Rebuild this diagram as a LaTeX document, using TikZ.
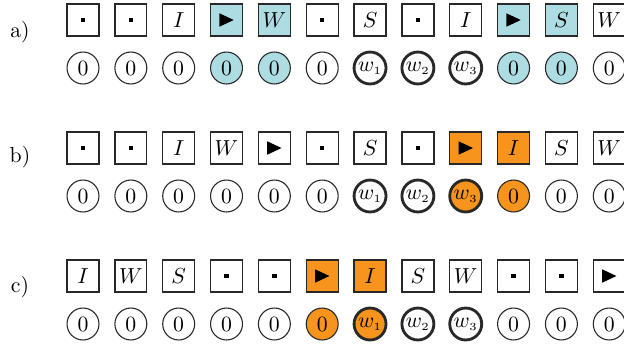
\documentclass[tikz,border=0pt]{standalone}
\definecolor{bluefill}{RGB}{173,221,227}
\definecolor{orfill}{RGB}{247,148,29}
\definecolor{edgec}{RGB}{40,40,40}
\newcommand\dotc{\rule{2pt}{2pt}}
\newcommand\trig{\tikz\fill (0,0)--(0,6.2pt)--(6.6pt,3.1pt)--cycle;}
\newcommand\wi[1]{$w_{\scriptscriptstyle #1}$}
\begin{document}
\begin{tikzpicture}[x=0.46pt,y=-0.46pt,
  sq/.style={draw=edgec, line width=0.6pt, minimum size=14.7pt, inner sep=0pt},
  cc/.style={circle, draw=edgec, minimum size=14.7pt, inner sep=0pt},
  thn/.style={line width=0.5pt},
  thk/.style={line width=1.3pt},
  lab/.style={inner sep=0pt}]
\useasboundingbox (0,0) rectangle (624,345);
% row a
\node[lab] (la) at (20,32) {a)};
\foreach \c/\f [count=\i from 0] in {\dotc/white,\dotc/white,$I$/white,\trig/bluefill,$W$/bluefill,\dotc/white,$S$/white,\dotc/white,$I$/white,\trig/bluefill,$S$/bluefill,$W$/white}
  \node[sq, fill=\f] (as\i) at ({83+47.84*\i},20) {\c};
\foreach \c/\f/\w [count=\i from 0] in {0/white/thn,0/white/thn,0/white/thn,0/bluefill/thn,0/bluefill/thn,0/white/thn,\wi1/white/thk,\wi2/white/thk,\wi3/white/thk,0/bluefill/thn,0/bluefill/thn,0/white/thn}
  \node[cc, \w, fill=\f] (ac\i) at ({83+47.84*\i},68) {\c};
% row b
\node[lab] (lb) at (20,157) {b)};
\foreach \c/\f [count=\i from 0] in {\dotc/white,\dotc/white,$I$/white,$W$/white,\trig/white,\dotc/white,$S$/white,\dotc/white,\trig/orfill,$I$/orfill,$S$/white,$W$/white}
  \node[sq, fill=\f] (bs\i) at ({83+47.84*\i},148) {\c};
\foreach \c/\f/\w [count=\i from 0] in {0/white/thn,0/white/thn,0/white/thn,0/white/thn,0/white/thn,0/white/thn,\wi1/white/thk,\wi2/white/thk,\wi3/orfill/thk,0/orfill/thn,0/white/thn,0/white/thn}
  \node[cc, \w, fill=\f] (bc\i) at ({83+47.84*\i},196) {\c};
% row c
\node[lab] (lc) at (20,287) {c)};
\foreach \c/\f [count=\i from 0] in {$I$/white,$W$/white,$S$/white,\dotc/white,\dotc/white,\trig/orfill,$I$/orfill,$S$/white,$W$/white,\dotc/white,\dotc/white,\trig/white}
  \node[sq, fill=\f] (cs\i) at ({83+47.84*\i},276) {\c};
\foreach \c/\f/\w [count=\i from 0] in {0/white/thn,0/white/thn,0/white/thn,0/white/thn,0/white/thn,0/orfill/thn,\wi1/orfill/thk,\wi2/white/thk,\wi3/white/thk,0/white/thn,0/white/thn,0/white/thn}
  \node[cc, \w, fill=\f] (cc\i) at ({83+47.84*\i},324) {\c};
\end{tikzpicture}
\end{document}
